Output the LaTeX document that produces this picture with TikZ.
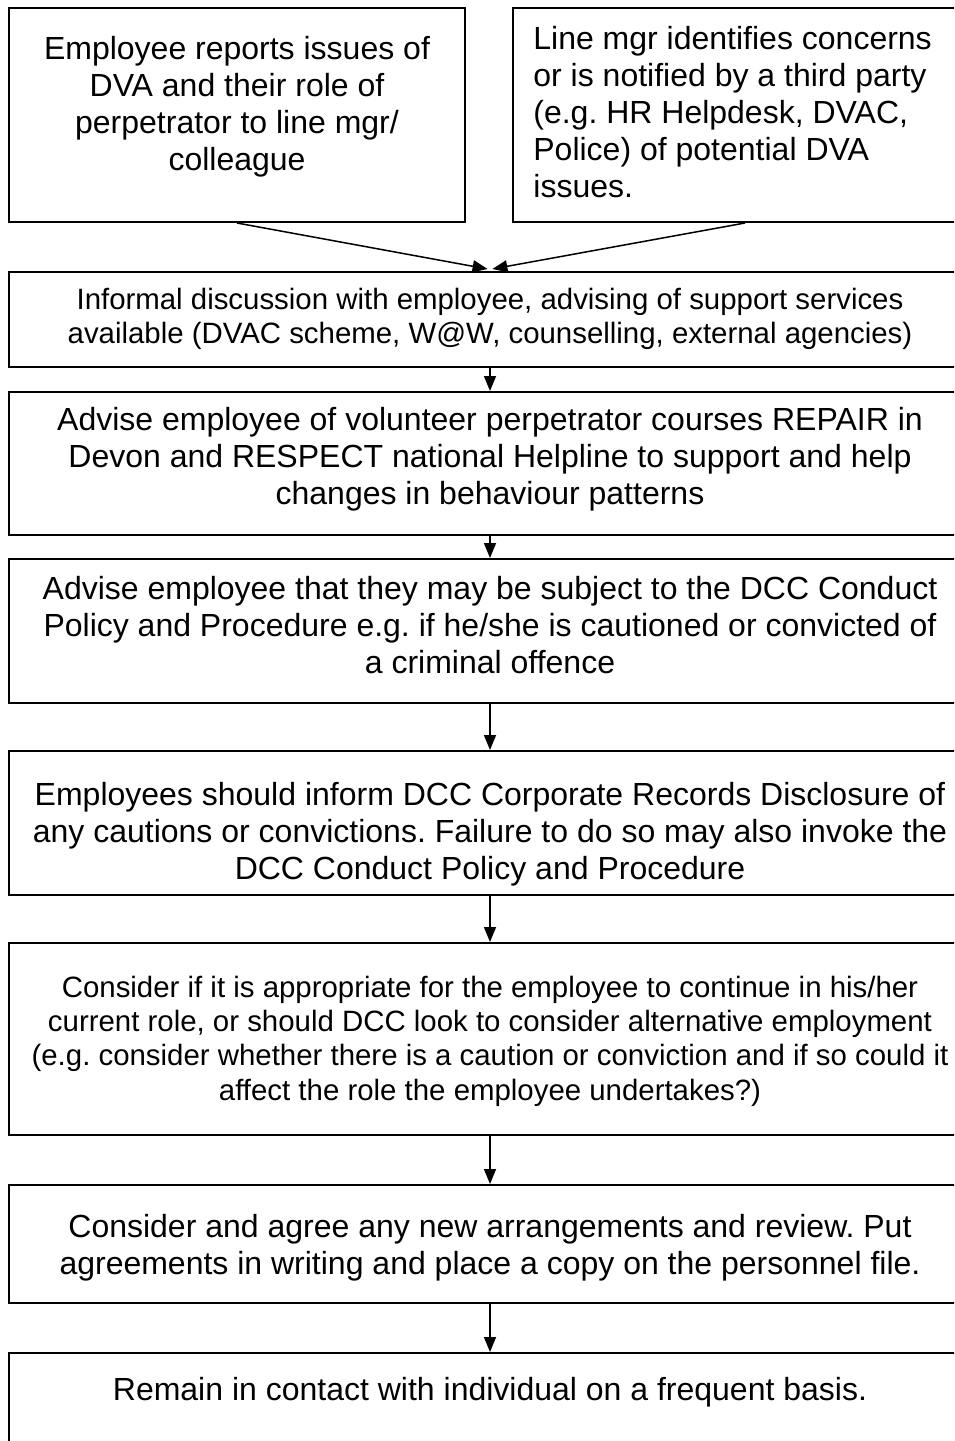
\documentclass[tikz,border=0pt]{standalone}
\usepackage{fontspec}
\setmainfont{Liberation Sans}
\usetikzlibrary{fit,arrows.meta}
\frenchspacing
\begin{document}
\begin{tikzpicture}[x=0.5pt,y=-0.5pt,
  box/.style={draw,line width=1pt,inner sep=0pt},
  arr/.style={line width=0.75pt,-{Triangle[length=7.5pt,width=6pt]}},
  txt/.style={align=center,font=\fontsize{16pt}{18.5pt}\selectfont,inner sep=0pt},
  ltxt/.style={align=left,font=\fontsize{16pt}{18.6pt}\selectfont,inner sep=0pt},
  stxt/.style={align=center,font=\fontsize{14.7pt}{16.8pt}\selectfont,inner sep=0pt}]
\useasboundingbox (0,0) rectangle (954,1441);
\clip (0,0) rectangle (954,1441);
\fill[white] (0,0) rectangle (954,1441);
% boxes
\node[box, fit={(9,8)(465,222)}] (b1) {};
\node[box, fit={(513,8)(977,222)}] (b2) {};
\node[box, fit={(9,272)(971,367)}] (b3) {};
\node[box, fit={(9,392)(971,535)}] (b4) {};
\node[box, fit={(9,559)(971,703)}] (b5) {};
\node[box, fit={(9,751)(971,895)}] (b6) {};
\node[box, fit={(9,943)(971,1135)}] (b7) {};
\node[box, fit={(9,1185)(971,1303)}] (b8) {};
\node[box, fit={(9,1353)(971,1470)}] (b9) {};
% texts
\node[txt] (t1) at (237,107) {Employee reports issues of\\DVA and their role of\\perpetrator to line mgr/\\colleague};
\node[ltxt,anchor=west] (t2) at (533,112) {Line mgr identifies concerns\\or is notified by a third party\\(e.g. HR Helpdesk, DVAC,\\Police) of potential DVA\\issues.};
\node[stxt] (t3) at (490,319) {Informal discussion with employee, advising of support services\\available (DVAC scheme, W@W, counselling, external agencies)};
\node[txt] (t4) at (490,459) {Advise employee of volunteer perpetrator courses REPAIR in\\Devon and RESPECT national Helpline to support and help\\changes in behaviour patterns};
\node[txt] (t5) at (490,625) {Advise employee that they may be subject to the DCC Conduct\\Policy and Procedure e.g. if he/she is cautioned or convicted of\\a criminal offence};
\node[txt] (t6) at (490,834) {Employees should inform DCC Corporate Records Disclosure of\\any cautions or convictions. Failure to do so may also invoke the\\DCC Conduct Policy and Procedure};
\node[stxt,font=\fontsize{14.7pt}{17.2pt}\selectfont] (t7) at (490,1041) {Consider if it is appropriate for the employee to continue in his/her\\current role, or should DCC look to consider alternative employment\\(e.g. consider whether there is a caution or conviction and if so could it\\affect the role the employee undertakes?)};
\node[txt] (t8) at (490,1248) {Consider and agree any new arrangements and review. Put\\agreements in writing and place a copy on the personnel file.};
\node[txt] (t9) at (490,1392) {Remain in contact with individual on a frequent basis.};
% connectors
\draw[arr] (b1.south) -- ([xshift=-1.2pt,yshift=1pt]b3.north);
\draw[arr] (b2.south) -- ([xshift=1.2pt,yshift=1pt]b3.north);
\draw[arr] (b3.south) -- (b4.north);
\draw[arr] (b4.south) -- (b5.north);
\draw[arr] (b5.south) -- (b6.north);
\draw[arr] (b6.south) -- (b7.north);
\draw[arr] (b7.south) -- (b8.north);
\draw[arr] (b8.south) -- (b9.north);
\end{tikzpicture}
\end{document}
